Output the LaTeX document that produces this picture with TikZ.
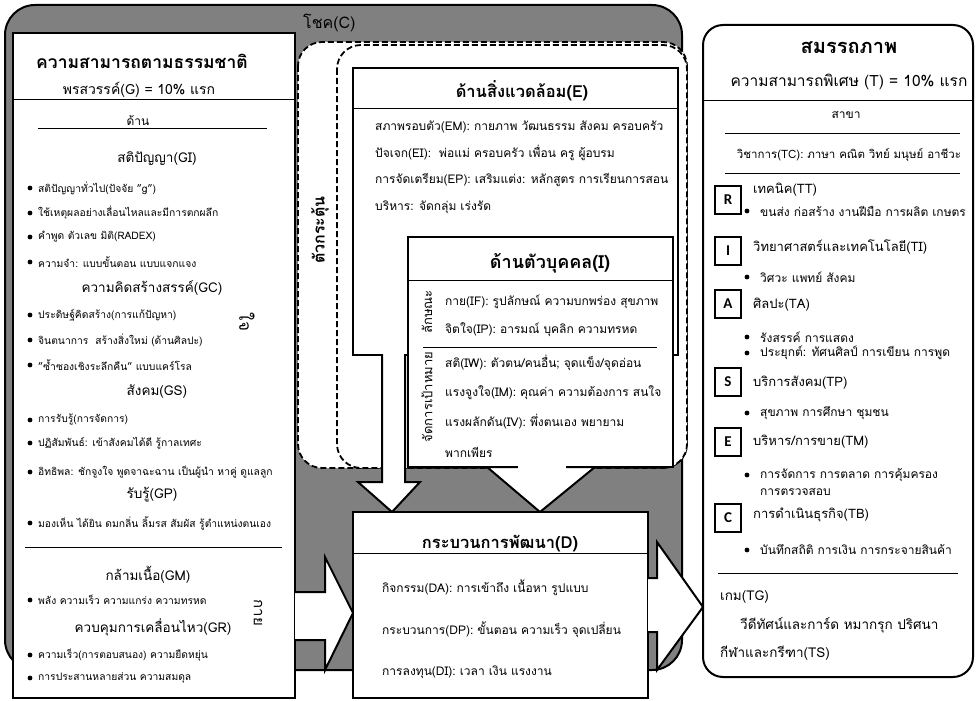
\documentclass[tikz,border=0pt]{standalone}
\usepackage{fontspec}
\setmainfont[Script=Thai]{Loma}
\newfontfamily\carl{Carlito}
\definecolor{cgray}{RGB}{128,128,128}
\begin{document}
\begin{tikzpicture}[x=1pt,y=-1pt,
  frame/.style={draw=black,line width=2pt,fill=white},
  thin/.style={draw=black,line width=1pt},
  dash box/.style={draw=black,dash pattern=on 6pt off 3pt,line width=1.8pt,fill=white,rounded corners=24pt},
  blockarrow/.style={draw=black,line width=2pt,fill=white,line join=miter},
  body/.style={font=\fontsize{10.3}{12}\selectfont,anchor=west,inner sep=0pt},
  ebody/.style={font=\fontsize{12}{14}\selectfont,anchor=west,inner sep=0pt},
  tlab/.style={font=\fontsize{13}{15}\selectfont,anchor=west,inner sep=0pt},
  tbody/.style={font=\fontsize{12}{14}\selectfont,anchor=west,inner sep=0pt},
  tlow/.style={font=\fontsize{13.5}{15}\selectfont,anchor=west,inner sep=0pt},
  ttl/.style={font=\fontsize{16.5}{18}\selectfont\bfseries,inner sep=0pt},
  subh/.style={font=\fontsize{13.5}{15}\selectfont,inner sep=0pt},
  bul/.style={circle,fill=black,inner sep=0pt,minimum size=4.8pt},
  letterbox/.style={draw=black,line width=1.2pt,minimum width=26pt,minimum height=28pt,inner sep=0pt,font=\carl\fontsize{15}{15}\selectfont\bfseries},
  vtext/.style={inner sep=0pt,font=\fontsize{13}{15}\selectfont}
]
\useasboundingbox (0,0) rectangle (977,701);

% luck area
\draw[line width=2pt,fill=cgray,rounded corners=30pt] (5,5) rectangle (682,670);
\node[font=\fontsize{16}{18}\selectfont,anchor=west,inner sep=0pt] (luck) at (303,23) {โชค(C)};

% left box
\draw[frame] (13,33) rectangle (295,698);
\node[ttl,font=\fontsize{17.5}{19}\selectfont\bfseries] (natT) at (142,61) {ความสามารถตามธรรมชาติ};
\node[font=\fontsize{14}{16}\selectfont,inner sep=0pt] (natG) at (139,90) {พรสวรรค์(G) = 10\% แรก};
\draw[thin] (13,99) -- (295,99);
\node[font=\fontsize{12}{14}\selectfont,inner sep=0pt] (natD) at (138,121) {ด้าน};
\draw[thin] (38,128) -- (267,128);

\node[subh] (gi) at (157,159) {สติปัญญา(GI)};
\foreach \yy/\tt [count=\i] in {188/{สติปัญญาทั่วไป(ปัจจัย "g")},213/{ใช้เหตุผลอย่างเลื่อนไหลและมีการตกผลึก},237/{คำพูด ตัวเลข มิติ(RADEX)},262/{ความจำ: แบบขั้นตอน แบบแจกแจง}}{
  \node[bul] (gib\i) at (30,\yy) {};
  \node[body] (git\i) at (38,\yy) {\tt};
}
\node[subh] (gc) at (152,288) {ความคิดสร้างสรรค์(GC)};
\foreach \yy/\tt [count=\i] in {315/{ประดิษฐ์คิดสร้าง(การแก้ปัญหา)},340/{จินตนาการ \ สร้างสิ่งใหม่ (ด้านศิลปะ)},365/{"ซ้ำซองเชิงระลึกคืน" แบบแคร์โรล}}{
  \node[bul] (gcb\i) at (30,\yy) {};
  \node[body] (gct\i) at (38,\yy) {\tt};
}
\node[subh] (gs) at (157,392) {สังคม(GS)};
\foreach \yy/\tt [count=\i] in {420/{การรับรู้(การจัดการ)},443/{ปฏิสัมพันธ์: เข้าสังคมได้ดี รู้กาลเทศะ},472/{อิทธิพล: ชักจูงใจ พูดจาฉะฉาน เป็นผู้นำ หาคู่ ดูแลลูก}}{
  \node[bul] (gsb\i) at (30,\yy) {};
  \node[body] (gst\i) at (38,\yy) {\tt};
}
\node[subh] (gp) at (152,495) {รับรู้(GP)};
\node[bul] (gpb1) at (30,523) {};
\node[body] (gpt1) at (38,523) {มองเห็น ได้ยิน ดมกลิ่น ลิ้มรส สัมผัส รู้ตำแหน่งตนเอง};
\draw[thin] (25,547) -- (282,547);
\node[subh] (gm) at (148,575) {กล้ามเนื้อ(GM)};
\node[bul] (gmb1) at (30,600) {};
\node[body] (gmt1) at (38,600) {พลัง ความเร็ว ความแกร่ง ความทรหด};
\node[subh] (gr) at (153,627) {ควบคุมการเคลื่อนไหว(GR)};
\node[bul] (grb1) at (30,655) {};
\node[body] (grt1) at (38,655) {ความเร็ว(การตอบสนอง) ความยืดหยุ่น};
\node[bul] (grb2) at (30,678) {};
\node[body] (grt2) at (38,678) {การประสานหลายส่วน ความสมดุล};
\node[vtext,rotate=-90,font=\fontsize{17}{19}\selectfont] (mind) at (247,322) {ใจ};
\node[vtext,rotate=-90,font=\fontsize{15}{17}\selectfont] (body) at (258,613) {กาย};

% catalyst dashed areas
\draw[dash box] (298,42) rectangle (687,468);
\draw[dash box] (337,45) rectangle (687,468);
\node[vtext,rotate=90,font=\fontsize{16}{18}\selectfont\bfseries] (cat) at (320,230) {ตัวกระตุ้น};

% environment box
\draw[frame] (353,68) rectangle (678,355);
\node[ttl] (envT) at (522,91) {ด้านสิ่งแวดล้อม(E)};
\draw[thin] (353,108) -- (678,108);
\node[ebody] (em) at (375,127) {สภาพรอบตัว(EM): กายภาพ วัฒนธรรม สังคม ครอบครัว};
\node[ebody] (ei) at (375,153) {ปัจเจก(EI): \ พ่อแม่ ครอบครัว เพื่อน ครู ผู้อบรม};
\node[ebody] (ep) at (375,180) {การจัดเตรียม(EP): เสริมแต่ง: หลักสูตร การเรียนการสอน};
\node[ebody] (ea) at (375,207) {บริหาร: จัดกลุ่ม เร่งรัด};

% left down arrow (from E)
\fill[white] (382,352) -- (382,482) -- (358,482) -- (392,512) -- (420,482) -- (405,482) -- (405,352) -- cycle;
\draw[line width=2pt,line join=miter] (382,354) -- (382,482) -- (358,482) -- (392,512) -- (420,482) -- (405,482) -- (405,354);

% individual box
\draw[frame] (408,237) rectangle (673,467);
\node[ttl,font=\fontsize{18}{20}\selectfont\bfseries] (indT) at (550,263) {ด้านตัวบุคคล(I)};
\draw[thin] (408,280) -- (673,280);
\node[vtext,rotate=90] (char) at (427,312) {ลักษณะ};
\node[vtext,rotate=90] (goal) at (427,397) {จัดการเป้าหมาย};
\draw[thin] (423,347) -- (657,347);
\node[ebody] (if) at (445,302) {กาย(IF): รูปลักษณ์ ความบกพร่อง สุขภาพ};
\node[ebody] (ip) at (445,330) {จิตใจ(IP): อารมณ์ บุคลิก ความทรหด};
\node[ebody] (iw) at (445,363) {สติ(IW): ตัวตน/คนอื่น; จุดแข็ง/จุดอ่อน};
\node[ebody] (im) at (445,393) {แรงจูงใจ(IM): คุณค่า ความต้องการ สนใจ};
\node[ebody] (iv) at (445,422) {แรงผลักดัน(IV): พึ่งตนเอง พยายาม};
\node[ebody] (iv2) at (445,452) {พากเพียร};

% right down arrow (from I)
\draw[blockarrow] (487,467) -- (540,512) -- (595,467) -- cycle;
\fill[white] (518,464) rectangle (566,470);

% development box
\draw[frame] (353,512) rectangle (648,698);
\node[ttl] (devT) at (500,544) {กระบวนการพัฒนา(D)};
\draw[thin] (353,553) -- (648,553);
\node[ebody] (da) at (382,588) {กิจกรรม(DA): การเข้าถึง เนื้อหา รูปแบบ};
\node[ebody] (dp) at (382,630) {กระบวนการ(DP): ขั้นตอน ความเร็ว จุดเปลี่ยน};
\node[ebody] (di) at (382,672) {การลงทุน(DI): เวลา เงิน แรงงาน};

% arrows into / out of D
\draw[blockarrow] (295,592) -- (325,592) -- (325,557) -- (353,613) -- (325,670) -- (325,640) -- (295,640);
\draw[blockarrow] (648,578) -- (657,578) -- (657,542) -- (703,607) -- (657,670) -- (657,632) -- (648,632);

% talent box
\draw[line width=2pt,fill=white,rounded corners=20pt] (703,25) rectangle (973,677);
\node[font=\fontsize{20}{22}\selectfont\bfseries,inner sep=0pt] (talT) at (849,48) {สมรรถภาพ};
\node[font=\fontsize{15.5}{17}\selectfont,inner sep=0pt] (talS) at (849,82) {ความสามารถพิเศษ (T) = 10\% แรก};
\draw[thin] (703,100) -- (973,100);
\node[font=\fontsize{12}{14}\selectfont,inner sep=0pt] (br) at (846,115) {สาขา};
\draw[thin] (725,133) -- (960,133);
\node[font=\fontsize{11.5}{13}\selectfont,inner sep=0pt] (tc) at (849,155) {วิชาการ(TC): ภาษา คณิต วิทย์ มนุษย์ อาชีวะ};
\draw[thin] (725,173) -- (960,173);

\foreach \L/\yy/\lab/\ly [count=\i] in {R/200/{เทคนิค(TT)}/190, I/251/{วิทยาศาสตร์และเทคโนโลยี(TI)}/247, A/304/{ศิลปะ(TA)}/305, S/382/{บริการสังคม(TP)}/383, E/442/{บริหาร/การขาย(TM)}/442, C/518/{การดำเนินธุรกิจ(TB)}/515}{
  \node[letterbox] (lb\i) at (728,\yy) {\L};
  \node[tlab] (ll\i) at (753,\ly) {\lab};
}
\foreach \yy/\tt [count=\i] in {211/{ขนส่ง ก่อสร้าง งานฝีมือ การผลิต เกษตร},277/{วิศวะ แพทย์ สังคม},337/{รังสรรค์ การแสดง},353/{ประยุกต์: ทัศนศิลป์ การเขียน การพูด},413/{สุขภาพ การศึกษา ชุมชน},475/{การจัดการ การตลาด การคุ้มครอง},550/{บันทึกสถิติ การเงิน การกระจายสินค้า}}{
  \node[bul] (tb\i) at (747,\yy) {};
  \node[tbody] (tt\i) at (760,\yy) {\tt};
}
\node[tbody] (tt8) at (760,492) {การตรวจสอบ};
\draw[thin] (718,573) -- (958,573);
\node[tlow] (tg) at (720,597) {เกม(TG)};
\node[tlow] (tg2) at (740,625) {วีดีทัศน์และการ์ด หมากรุก ปริศนา};
\node[tlow] (ts) at (720,653) {กีฬาและกรีฑา(TS)};
\end{tikzpicture}
\end{document}
